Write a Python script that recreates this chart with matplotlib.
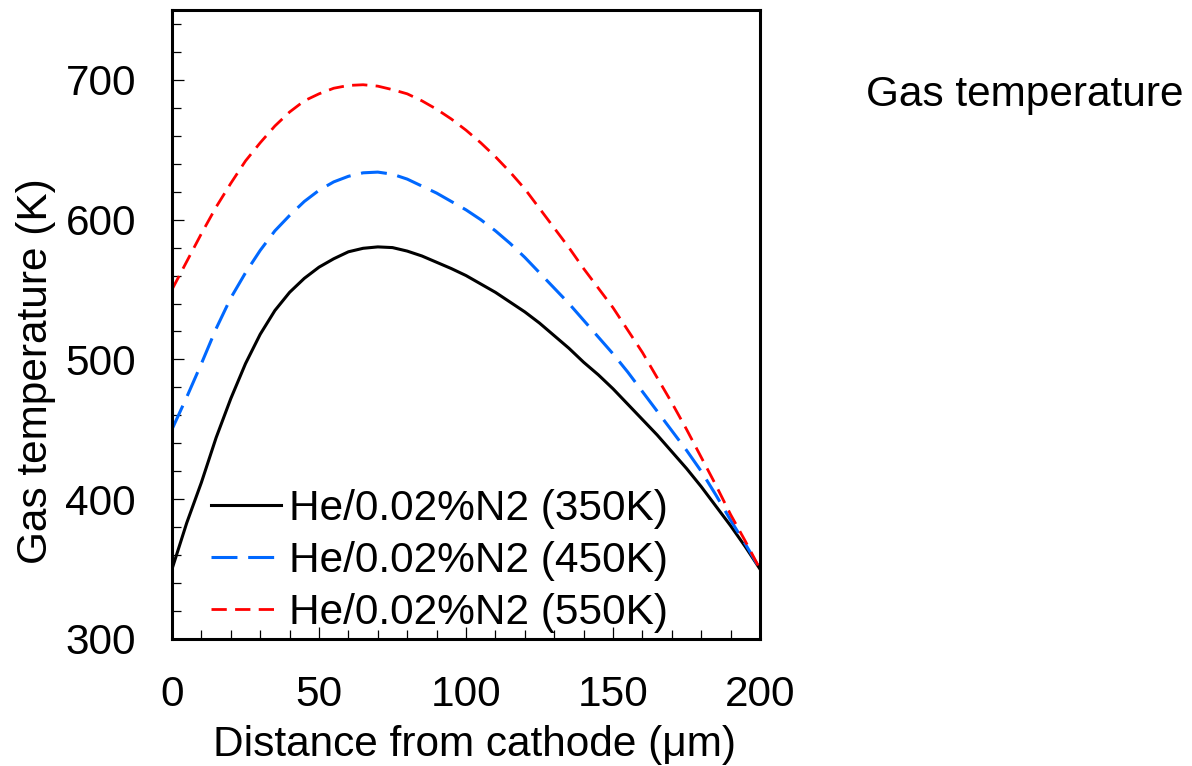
import numpy as np
import matplotlib
matplotlib.use("Agg")
import matplotlib.pyplot as plt
from matplotlib.ticker import MultipleLocator

plt.rcParams['font.family'] = ['Liberation Sans', 'DejaVu Sans']

# distance from cathode (um)
dist = [0, 5, 10, 15, 20, 25, 30, 35, 40, 45, 50, 55, 60, 65, 70, 75, 80, 85, 90, 95,
        100, 105, 110, 115, 120, 125, 130, 135, 140, 145, 150, 155, 160, 165, 170,
        175, 180, 185, 190, 195, 200]

# gas temperature (K) for the three wall temperatures
t_350 = [350, 383, 412, 444, 472, 497, 518, 535, 548, 558, 566, 572, 577, 579.5, 580.5,
         580, 577.5, 574, 569.5, 565, 560, 554, 548, 541, 534, 526, 517, 508, 498, 489,
         479, 468, 457, 446, 434, 422, 409, 395, 381, 366, 350]
t_450 = [450, 473, 497, 522, 544, 562, 578, 592, 603, 613, 621, 627, 631, 633.5, 634,
         632.5, 629, 624, 619, 613, 607, 600, 592, 583, 573, 562, 551, 540, 528, 516,
         504, 491, 477, 463, 449, 435, 420, 403, 385, 368, 350]
t_550 = [550, 570, 590, 609, 626, 642, 655, 667, 677, 685, 690, 694, 696, 696.5, 695.5,
         693, 690, 685, 679, 672, 664, 655, 645, 634, 622, 608, 594, 580, 565, 551,
         537, 521, 505, 487, 469, 450, 430, 410, 389, 370, 350]

labels = ["He/0.02%N2 (350K)", "He/0.02%N2 (450K)", "He/0.02%N2 (550K)"]

fs = 30.5

fig = plt.figure(figsize=(11.92, 7.66), dpi=100)
ax = fig.add_axes([0.1443, 0.1658, 0.4933, 0.8212])

ax.plot(dist, t_350, color='black', lw=2.2, label=labels[0])
ax.plot(dist, t_450, color='#0068ff', lw=2.2, dashes=(8.5, 3.5), label=labels[1])
ax.plot(dist, t_550, color='#ff0000', lw=2.0, dashes=(5.5, 3.0), label=labels[2])

ax.set_xlim(0, 200)
ax.set_ylim(300, 750)
ax.xaxis.set_major_locator(MultipleLocator(50))
ax.xaxis.set_minor_locator(MultipleLocator(10))
ax.yaxis.set_major_locator(MultipleLocator(100))
ax.yaxis.set_minor_locator(MultipleLocator(20))
ax.set_yticks([300, 400, 500, 600, 700])

ax.tick_params(which='both', direction='in', top=False, right=False,
               labelsize=fs, pad=26, width=0.9)
ax.tick_params(which='major', length=8.6)
ax.tick_params(which='minor', length=6.8)
for s in ax.spines.values():
    s.set_linewidth(2.2)

ax.set_xlabel("Distance from cathode (\u03bcm)", fontsize=fs)
ax.set_ylabel("Gas temperature (K)", fontsize=fs)
ax.xaxis.set_label_coords(0.5136, -0.136)
ax.yaxis.set_label_coords(-0.197, 0.426)

ax.legend(loc='lower left', bbox_to_anchor=(0.066, 0.010), frameon=False,
          fontsize=fs, handlelength=1.65, handletextpad=0.2,
          labelspacing=0.28, borderpad=0, borderaxespad=0)

fig.text(866 / 1192, 1 - 95 / 766, "Gas temperature", fontsize=fs,
         ha='left', va='center')

fig.savefig("out.png", dpi=100)
